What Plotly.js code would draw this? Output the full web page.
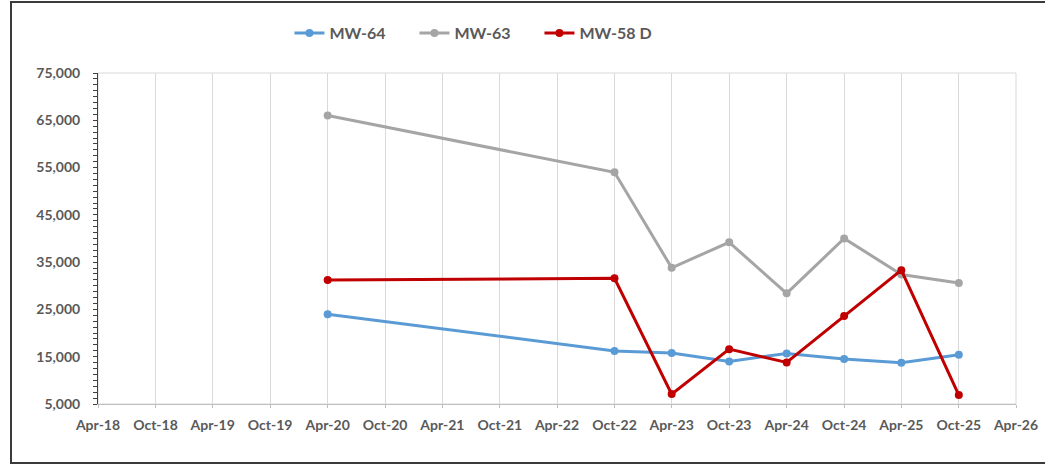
<!DOCTYPE html>
<html>
<head>
<meta charset="utf-8">
<script src="https://cdn.plot.ly/plotly-3.0.1.min.js"></script>
<style>
  html, body { margin: 0; padding: 0; background: #ffffff; }
  #wrap { position: relative; width: 1045px; height: 465px; overflow: hidden; }
  #chart { width: 1045px; height: 465px; }
  #frame { position: absolute; left: 10px; top: 1px; width: 1100px; height: 459px;
           border: 2px solid #3a3a3a; pointer-events: none; }
</style>
</head>
<body>
<div id="wrap">
  <div id="chart"></div>
  <div id="frame"></div>
</div>
<script>
// Sampling dates
var dates = ["2020-04-01", "2022-10-01", "2023-04-01", "2023-10-01", "2024-04-01",
             "2024-10-01", "2025-04-01", "2025-10-01"];

// Series values
var mw64  = [24000, 16200, 15800, 14000, 15700, 14500, 13700, 15400];
var mw63  = [66000, 54000, 33800, 39200, 28400, 40000, 32400, 30600];
var mw58d = [31200, 31600, 7100, 16600, 13800, 23600, 33300, 6900];

var seriesNames = ["MW-64", "MW-63", "MW-58 D"];
var seriesColors = ["#5B9BD5", "#A5A5A5", "#C00000"];
var seriesValues = [mw64, mw63, mw58d];

var traces = seriesNames.map(function (name, i) {
  return {
    type: "scatter",
    mode: "lines+markers",
    name: name,
    x: dates,
    y: seriesValues[i],
    line: { color: seriesColors[i], width: 3 },
    marker: { color: seriesColors[i], size: 8 }
  };
});

var layout = {
  width: 1045,
  height: 465,
  margin: { l: 98, r: 29, t: 73, b: 61, autoexpand: false },
  paper_bgcolor: "#ffffff",
  plot_bgcolor: "#ffffff",
  font: { family: "Lato, 'Open Sans', sans-serif", color: "#595959", size: 14, weight: "bold" },
  showlegend: true,
  legend: {
    orientation: "h",
    xref: "container", yref: "container",
    x: 0.277, xanchor: "left",
    y: 0.929, yanchor: "middle",
    font: { size: 16, color: "#595959", weight: "bold" },
    itemwidth: 30,
    entrywidth: 80,
    entrywidthmode: "pixels",
    bgcolor: "rgba(0,0,0,0)"
  },
  xaxis: {
    type: "date",
    range: ["2018-04-01", "2026-04-01"],
    tick0: "2018-04-01",
    dtick: "M6",
    tickformat: "%b-%y",
    showgrid: true,
    gridcolor: "#D9D9D9",
    gridwidth: 1,
    showline: true,
    linecolor: "#BFBFBF",
    linewidth: 1,
    ticks: "outside",
    ticklen: 3,
    tickcolor: "#BFBFBF",
    ticklabelstandoff: 5,
    zeroline: false,
    automargin: false,
    tickfont: { size: 14, color: "#595959", weight: "bold" }
  },
  yaxis: {
    range: [5000, 75000],
    tick0: 5000,
    dtick: 10000,
    tickformat: ",d",
    showgrid: false,
    showline: true,
    linecolor: "#404040",
    linewidth: 1,
    ticks: "outside",
    ticklen: 4,
    tickcolor: "#404040",
    ticklabelstandoff: 10,
    minor: { ticks: "outside", dtick: 1250, ticklen: 4, tickcolor: "#404040", showgrid: false },
    zeroline: false,
    automargin: false,
    tickfont: { size: 14, color: "#595959", weight: "bold" }
  },
  shapes: [
    { type: "rect", xref: "paper", yref: "paper", x0: 0, x1: 1, y0: 0, y1: 1,
      line: { color: "#D9D9D9", width: 1 }, layer: "below" }
  ]
};

Plotly.newPlot("chart", traces, layout, { displayModeBar: false, staticPlot: true });
</script>
</body>
</html>
